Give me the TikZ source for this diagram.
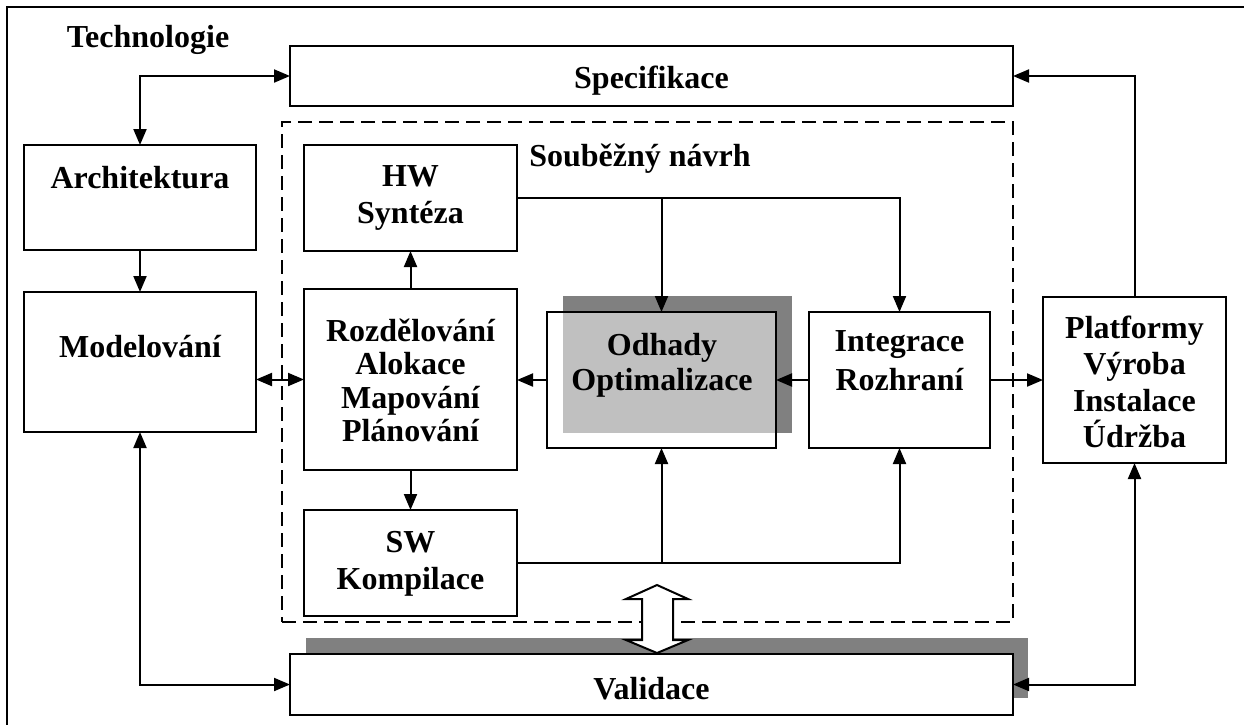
\documentclass[tikz,border=0pt]{standalone}
\usepackage{fontspec}
\setmainfont{Liberation Serif}
\usetikzlibrary{arrows.meta}
\definecolor{shadowgray}{HTML}{808080}
\definecolor{panelgray}{HTML}{C0C0C0}
\begin{document}
\begin{tikzpicture}[x=1pt,y=-1pt,
  box/.style={draw,line width=2.2pt,rectangle,inner sep=0pt,outer sep=0pt},
  group/.style={draw,line width=2pt,dash pattern=on 14pt off 7pt,rectangle,inner sep=0pt,outer sep=0pt},
  lbl/.style={align=center,inner sep=0pt,anchor=base,font=\fontsize{32}{36.5}\selectfont\bfseries},
  conn/.style={line width=2pt},
  arr/.style={conn,-{Triangle[length=16pt,width=13pt]}},
  dbl/.style={conn,{Triangle[length=16pt,width=13pt]}-{Triangle[length=16pt,width=13pt]}},
]
\useasboundingbox (0,0) rectangle (1244,724);
\clip (0,0) rectangle (1244,724);

% outer frame
\draw[line width=2.2pt] (7,7) rectangle (1262,742);

% concurrent design group
\node[group, minimum width=731pt, minimum height=500pt] (conc) at (647.5,372) {};

% shadows and panel behind the estimation block
\fill[shadowgray] (563,296) rectangle (792,433);
\fill[panelgray] (563,312) rectangle (776,433);
\fill[shadowgray] (306,638) rectangle (1028,698);

% boxes
\node[box, minimum width=723pt, minimum height=60pt] (spec) at (651.5,76) {};
\node[box, fill=white, minimum width=723pt, minimum height=61pt] (valid) at (651.5,684.5) {};
\node[box, minimum width=232pt, minimum height=105pt] (arch) at (140,197.5) {};
\node[box, minimum width=232pt, minimum height=140pt] (model) at (140,362) {};
\node[box, minimum width=213pt, minimum height=106pt] (hw) at (410.5,198) {};
\node[box, minimum width=213pt, minimum height=181pt] (rozd) at (410.5,379.5) {};
\node[box, minimum width=213pt, minimum height=106pt] (sw) at (410.5,563) {};
\node[box, minimum width=229pt, minimum height=136pt] (odh) at (661.5,380) {};
\node[box, minimum width=181pt, minimum height=136pt] (integ) at (899.5,380) {};
\node[box, minimum width=183pt, minimum height=166pt] (plat) at (1134.5,380) {};

% labels (multi-line labels are anchored at the baseline of their last line)
\node[lbl] (techT) at (148,47) {Technologie};
\node[lbl] (specT) at (651.5,88) {Specifikace};
\node[lbl] (concT) at (640,166) {Souběžný návrh};
\node[lbl] (archT) at (140,188) {Architektura};
\node[lbl] (modelT) at (140,357) {Modelování};
\node[lbl] (hwT) at (410.5,223) {HW\\Syntéza};
\node[lbl, font=\fontsize{32}{33.5}\selectfont\bfseries] (rozdT) at (410.5,441.5) {Rozdělování\\Alokace\\Mapování\\Plánování};
\node[lbl] (swT) at (410.5,589) {SW\\Kompilace};
\node[lbl, font=\fontsize{32}{35}\selectfont\bfseries] (odhT) at (662,390) {Odhady\\Optimalizace};
\node[lbl, font=\fontsize{32}{39.5}\selectfont\bfseries] (integT) at (899.5,390.5) {Integrace\\Rozhraní};
\node[lbl] (platT) at (1134.5,447.5) {Platformy\\Výroba\\Instalace\\Údržba};
\node[lbl] (validT) at (651.5,699) {Validace};

% connectors
\draw[dbl] (spec.west) -| (arch.north);
\draw[arr] (arch.south) -- (model.north);
\draw[dbl] (rozd.west -| model.east) -- (rozd.west);
\draw[dbl] (model.south) |- (valid.west);
\draw[arr] (rozd.north) -- (hw.south);
\draw[arr] (rozd.south) -- (sw.south |- sw.north);
\draw[arr] (odh.west) -- (odh.west -| rozd.east);
\draw[arr] (integ.west) -- (integ.west -| odh.east);
\draw[arr] (integ.east) -- (integ.east -| plat.west);
\draw[arr] (plat.north) |- (spec.east);
\draw[dbl] (valid.east) -| (plat.south);
\draw[arr] (hw.east) -| (integ.north);
\coordinate (hwsplit) at (hw.east -| odh.north);
\draw[arr] (hwsplit) -- (odh.north);
\draw[arr] (sw.east) -| (integ.south);
\coordinate (swsplit) at (sw.east -| odh.south);
\draw[arr] (swsplit) -- (odh.south);

% hollow double arrow between the design group and validation
\draw[line width=2pt, fill=white, line join=miter]
  (657,585) -- (688,599) -- (673,599) -- (673,640) -- (688,640) -- (657,653)
  -- (626,640) -- (642,640) -- (642,599) -- (626,599) -- cycle;
\end{tikzpicture}
\end{document}
